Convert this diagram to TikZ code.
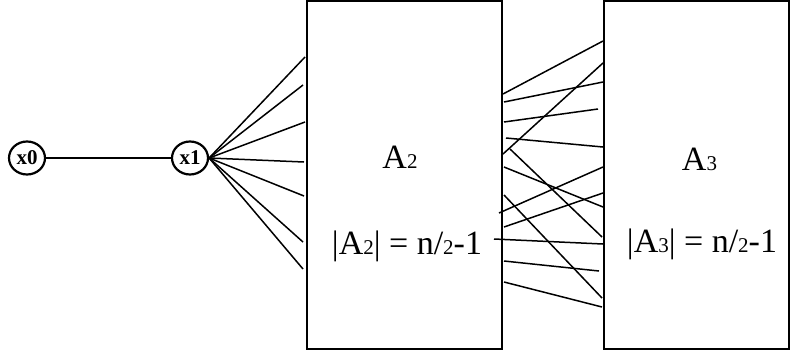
\documentclass[tikz,border=0pt]{standalone}
\usepackage{fontspec}
\setmainfont{Liberation Serif}
\usetikzlibrary{shapes.geometric}
\newcommand\smd[1]{{\fontsize{21}{21}\selectfont #1}}
\begin{document}
\begin{tikzpicture}[x=1pt,y=-1pt,
  vtx/.style={draw, ellipse, line width=2.2pt, minimum width=36pt, minimum height=33pt, inner sep=0pt, font=\fontsize{21}{21}\selectfont\bfseries},
  setbox/.style={draw, line width=2.2pt, inner sep=0pt},
  lbl/.style={font=\fontsize{34}{34}\selectfont, inner sep=0pt, anchor=base},
  edge/.style={line width=1.5pt}]
\useasboundingbox (0,0) rectangle (791,354);
% vertices
\node[vtx] (x0) at (27,158) {x0};
\node[vtx] (x1) at (190,158) {x1};
% sets
\node[setbox, minimum width=195pt, minimum height=348pt] (A2) at (404.5,175) {};
\node[setbox, minimum width=185pt, minimum height=348pt] (A3) at (696.5,175) {};
% labels
\node[lbl] (A2n) at (400,168) {A\smd{2}};
\node[lbl] (A2s) at (407,254) {|A\smd{2}| = n/\smd{2}-1};
\node[lbl] (A3n) at (699.5,170) {A\smd{3}};
\node[lbl] (A3s) at (702,252) {|A\smd{3}| = n/\smd{2}-1};
% x0 -- x1
\draw[edge] (x0) -- (x1);
% x1 fan into A2
\coordinate (f1) at (305,57);
\coordinate (f2) at (303,85);
\coordinate (f3) at (305,122);
\coordinate (f4) at (304,162);
\coordinate (f5) at (304,196);
\coordinate (f6) at (303,242);
\coordinate (f7) at (303,269);
\foreach \i in {1,...,7} \draw[edge] (x1.east) -- (f\i);
% A2 -- A3 edges
\coordinate (p1) at (503,94);  \coordinate (q1) at (603,41);
\coordinate (p2) at (504,102); \coordinate (q2) at (603,82);
\coordinate (p3) at (504,122); \coordinate (q3) at (598,109);
\coordinate (p4) at (506,138); \coordinate (q4) at (603,147);
\coordinate (p5) at (503,154); \coordinate (q5) at (603,63);
\coordinate (p6) at (510,149); \coordinate (q6) at (602,237);
\coordinate (p7) at (504,167); \coordinate (q7) at (603,207);
\coordinate (p8) at (499,213); \coordinate (q8) at (603,167);
\coordinate (p9) at (504,195); \coordinate (q9) at (602,298);
\coordinate (p10) at (504,227); \coordinate (q10) at (603,193);
\coordinate (p11) at (494,239); \coordinate (q11) at (603,244);
\coordinate (p12) at (504,261); \coordinate (q12) at (599,271);
\coordinate (p13) at (504,282); \coordinate (q13) at (602,307);
\foreach \i in {1,...,13} \draw[edge] (p\i) -- (q\i);
\end{tikzpicture}
\end{document}
